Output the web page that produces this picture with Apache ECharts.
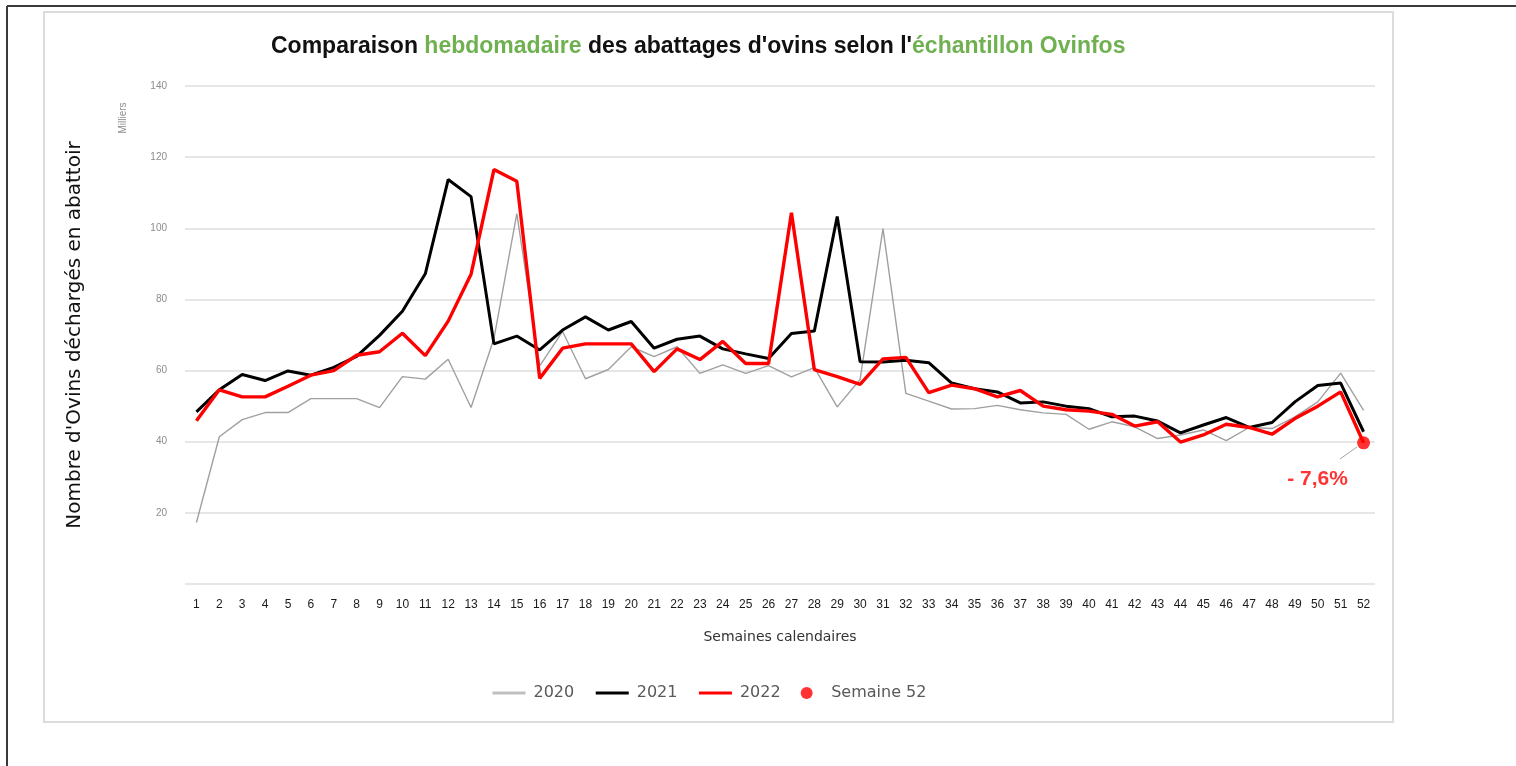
<!DOCTYPE html>
<html>
<head>
<meta charset="utf-8">
<script src="https://cdn.jsdelivr.net/npm/echarts@6/dist/echarts.min.js"></script>
<style>
  html, body { margin: 0; padding: 0; background: #fff; }
  #chart { width: 1516px; height: 766px; }
</style>
</head>
<body>
<div id="chart"></div>
<script>
// semaines 1..52
const weeks = Array.from({ length: 52 }, (_, i) => String(i + 1));

// milliers d'ovins
const y2020 = [17.3, 41.4, 46.2, 48.2, 48.2, 52.1, 52.1, 52.1, 49.6, 58.3,
  57.6, 63.2, 49.6, 69, 104.1, 61.3, 71, 57.7, 60.3, 66.7,
  63.9, 66.7, 59.2, 61.6, 59.2, 61.4, 58.2, 60.8, 49.8, 57.5,
  99.9, 53.6, 51.4, 49.2, 49.3, 50.2, 49, 48.1, 47.7, 43.5,
  45.6, 44.2, 40.9, 41.9, 43.3, 40.3, 44, 43.7, 47, 51.2,
  59.3, 48.8];
const y2021 = [48.4, 54.6, 58.9, 57.2, 59.9, 58.7, 60.9, 64, 69.9, 76.7,
  87.2, 113.7, 108.9, 67.5, 69.7, 65.8, 71.4, 75.1, 71.4, 73.8,
  66.3, 68.8, 69.7, 66.1, 64.7, 63.4, 70.4, 71.1, 103.3, 62.5,
  62.4, 62.9, 62.2, 56.5, 54.9, 54, 50.9, 51.2, 50, 49.3,
  47, 47.2, 45.8, 42.5, 44.7, 46.8, 44, 45.4, 51.2, 55.8,
  56.5, 42.8];
const y2022 = [45.9, 54.6, 52.6, 52.6, 55.6, 58.7, 60, 64.3, 65.3, 70.5,
  64.2, 73.9, 87.1, 116.5, 113.2, 57.8, 66.3, 67.5, 67.5, 67.5,
  59.7, 66.1, 63.1, 68.2, 62, 62, 104.4, 60.3, 58.3, 56.1,
  63.3, 63.7, 53.8, 55.9, 54.9, 52.6, 54.4, 50, 49, 48.6,
  47.7, 44.4, 45.6, 39.9, 41.9, 44.9, 44, 42.1, 46.5, 50,
  54, 39.7];
const week52Point = [['52', 39.7]];
const week52Label = '- 7,6%';

const chart = echarts.init(document.getElementById('chart'));

chart.setOption({
  animation: false,
  textStyle: { fontFamily: 'Liberation Sans, sans-serif' },
  graphic: [
    // cadre extérieur
    { type: 'line', shape: { x1: 7, y1: 6, x2: 1516, y2: 6 }, style: { stroke: '#3a3a3a', lineWidth: 2 } },
    { type: 'line', shape: { x1: 7, y1: 6, x2: 7, y2: 766 }, style: { stroke: '#3a3a3a', lineWidth: 2 } },
    // cadre du graphique
    { type: 'rect', shape: { x: 44, y: 12, width: 1349, height: 710 }, style: { fill: null, stroke: '#dcdcdc', lineWidth: 2 }, z: -1 },
    {
      type: 'text', x: 123, y: 118, rotation: Math.PI / 2,
      style: { text: 'Milliers', fill: '#8c8c8c', fontSize: 10, align: 'center', verticalAlign: 'middle',
        fontFamily: 'Liberation Sans, sans-serif' }
    },
    // trait de rappel de l'étiquette
    { type: 'line', shape: { x1: 1340, y1: 459, x2: 1357, y2: 447 }, style: { stroke: '#a6a6a6', lineWidth: 1 } }
  ],
  title: {
    left: 266,
    top: 30,
    text: '{b|Comparaison }{g|hebdomadaire}{b| des abattages d\'ovins selon l\'}{g|échantillon Ovinfos}',
    textStyle: {
      rich: {
        b: { fontSize: 23, fontWeight: 'bold', color: '#111' },
        g: { fontSize: 23, color: '#6fb050' }
      }
    }
  },
  legend: {
    left: 486,
    top: 680,
    itemWidth: 33,
    itemHeight: 12,
    itemGap: 20,
    textStyle: { fontSize: 16, color: '#595959', fontFamily: 'DejaVu Sans, sans-serif', padding: [0, 0, 0, 3] },
    data: [
      { name: '2020', itemStyle: { opacity: 0 }, lineStyle: { width: 3, color: '#bfbfbf' } },
      { name: '2021', itemStyle: { opacity: 0 }, lineStyle: { width: 3 } },
      { name: '2022', itemStyle: { opacity: 0 }, lineStyle: { width: 3 } },
      { name: 'Semaine 52', icon: 'circle' }
    ]
  },
  grid: { left: 185, right: 141, top: 86, bottom: 182 },
  xAxis: {
    type: 'category',
    data: weeks,
    name: 'Semaines calendaires',
    nameLocation: 'middle',
    nameGap: 46,
    nameTextStyle: { fontSize: 14, color: '#333', fontFamily: 'DejaVu Sans, sans-serif' },
    axisLine: { show: false },
    axisTick: { show: false },
    axisLabel: { fontSize: 12, color: '#1a1a1a', margin: 15, interval: 0 }
  },
  yAxis: {
    type: 'value',
    min: 0,
    max: 140,
    interval: 20,
    name: 'Nombre d\'Ovins déchargés en abattoir',
    nameLocation: 'middle',
    nameGap: 100,
    nameTextStyle: { fontSize: 20, color: '#111', fontFamily: 'DejaVu Sans, sans-serif' },
    axisLine: { show: false },
    axisTick: { show: false },
    axisLabel: {
      fontSize: 10, color: '#8c8c8c', margin: 18,
      formatter: v => (v === 0 ? '' : v)
    },
    splitLine: { lineStyle: { color: '#dedede', width: 1.5 } }
  },
  series: [
    {
      name: '2020', type: 'line', data: y2020, symbol: 'none',
      lineStyle: { color: '#a0a0a0', width: 1.4 }, itemStyle: { color: '#a0a0a0' }
    },
    {
      name: '2021', type: 'line', data: y2021, symbol: 'none',
      lineStyle: { color: '#000', width: 3 }, itemStyle: { color: '#000' }
    },
    {
      name: '2022', type: 'line', data: y2022, symbol: 'none',
      lineStyle: { color: '#ff0000', width: 3.4 }, itemStyle: { color: '#ff0000' }
    },
    {
      name: 'Semaine 52', type: 'scatter', data: week52Point, symbolSize: 13,
      itemStyle: { color: '#ff0000' }, z: 5,
      label: {
        show: true, formatter: week52Label, position: 'bottom',
        color: '#ff0000', fontSize: 21, fontWeight: 'bold'
      },
      labelLayout: { dx: -46, dy: 14 }
    }
  ]
});
</script>
</body>
</html>
